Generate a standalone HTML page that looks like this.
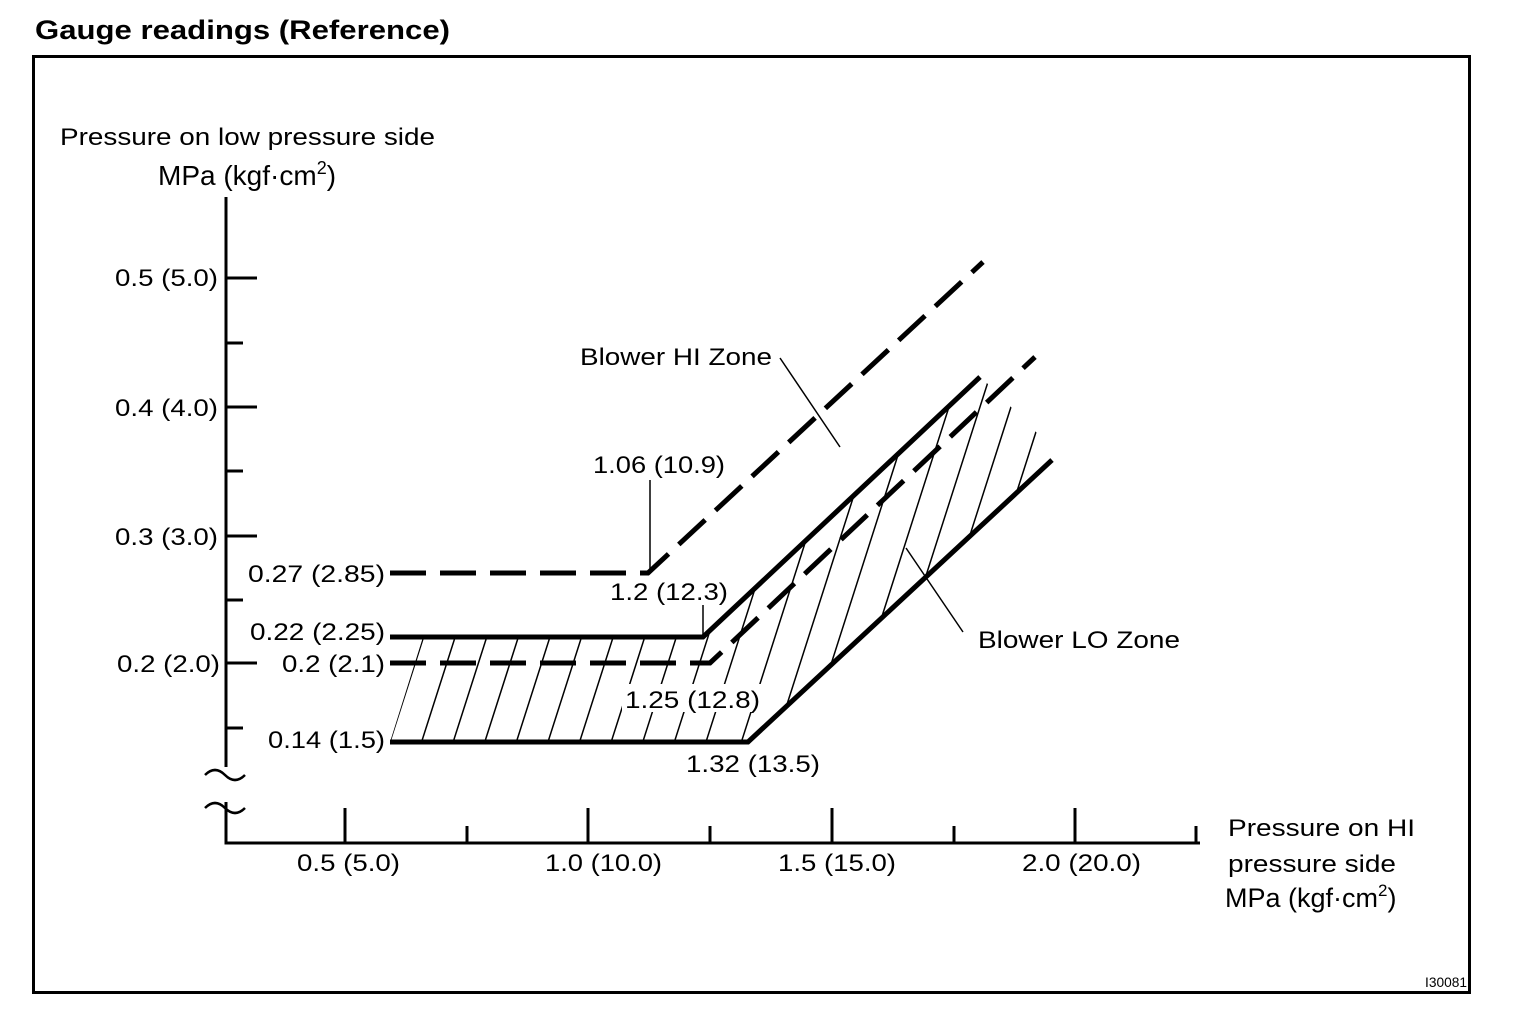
<!DOCTYPE html>
<html><head><meta charset="utf-8"><style>
html,body{margin:0;padding:0;background:#fff}
svg text{font-family:"Liberation Sans",Arial,sans-serif;fill:#000}
</style></head><body>
<svg width="1520" height="1016" viewBox="0 0 1520 1016" xmlns="http://www.w3.org/2000/svg">
<text x="35" y="39" font-size="27" font-weight="bold" textLength="415" lengthAdjust="spacingAndGlyphs">Gauge readings (Reference)</text>
<rect x="33.5" y="56.5" width="1436" height="936" fill="none" stroke="#000" stroke-width="3"/>
<clipPath id="c"><polygon points="390,742 423,637 703,637 980,378 988,384 1012,408 1037,433 1052,460 748,742"/></clipPath>
<g stroke="#000" stroke-width="1.5" clip-path="url(#c)">
<line x1="384.2" y1="760" x2="531.4" y2="300"/>
<line x1="415.8" y1="760" x2="563" y2="300"/>
<line x1="447.4" y1="760" x2="594.6" y2="300"/>
<line x1="479" y1="760" x2="626.2" y2="300"/>
<line x1="510.6" y1="760" x2="657.8" y2="300"/>
<line x1="542.2" y1="760" x2="689.4" y2="300"/>
<line x1="573.8" y1="760" x2="721" y2="300"/>
<line x1="605.4" y1="760" x2="752.6" y2="300"/>
<line x1="637" y1="760" x2="784.2" y2="300"/>
<line x1="668.6" y1="760" x2="815.8" y2="300"/>
<line x1="700.2" y1="760" x2="847.4" y2="300"/>
<line x1="735.6" y1="760" x2="882.8" y2="300"/>
<line x1="769.2" y1="760" x2="916.4" y2="300"/>
<line x1="800.4" y1="760" x2="947.6" y2="300"/>
<line x1="836" y1="760" x2="983.2" y2="300"/>
<line x1="867" y1="760" x2="1014.2" y2="300"/>
<line x1="898" y1="760" x2="1045.2" y2="300"/>
<line x1="931" y1="760" x2="1078.2" y2="300"/>
</g>
<rect x="622" y="684" width="142" height="28" fill="#fff"/>
<g font-size="24">
<text x="60" y="145" textLength="375" lengthAdjust="spacingAndGlyphs">Pressure on low pressure side</text>
<text x="158" y="185" font-size="28">MPa (kgf·cm<tspan font-size="18" dy="-11">2</tspan><tspan dy="11">)</tspan></text>
<text x="115" y="286" textLength="103" lengthAdjust="spacingAndGlyphs">0.5 (5.0)</text>
<text x="115" y="416" textLength="103" lengthAdjust="spacingAndGlyphs">0.4 (4.0)</text>
<text x="115" y="545" textLength="103" lengthAdjust="spacingAndGlyphs">0.3 (3.0)</text>
<text x="117" y="672" textLength="103" lengthAdjust="spacingAndGlyphs">0.2 (2.0)</text>
<text x="248" y="582" textLength="137" lengthAdjust="spacingAndGlyphs">0.27 (2.85)</text>
<text x="250" y="640" textLength="135" lengthAdjust="spacingAndGlyphs">0.22 (2.25)</text>
<text x="282" y="672" textLength="103" lengthAdjust="spacingAndGlyphs">0.2 (2.1)</text>
<text x="268" y="748" textLength="117" lengthAdjust="spacingAndGlyphs">0.14 (1.5)</text>
<text x="593" y="473" textLength="132" lengthAdjust="spacingAndGlyphs">1.06 (10.9)</text>
<text x="610" y="600" textLength="118" lengthAdjust="spacingAndGlyphs">1.2 (12.3)</text>
<text x="625" y="708" textLength="135" lengthAdjust="spacingAndGlyphs">1.25 (12.8)</text>
<text x="686" y="772" textLength="134" lengthAdjust="spacingAndGlyphs">1.32 (13.5)</text>
<text x="580" y="365" textLength="192" lengthAdjust="spacingAndGlyphs">Blower HI Zone</text>
<text x="978" y="648" textLength="202" lengthAdjust="spacingAndGlyphs">Blower LO Zone</text>
<text x="297" y="871" textLength="103" lengthAdjust="spacingAndGlyphs">0.5 (5.0)</text>
<text x="545" y="871" textLength="117" lengthAdjust="spacingAndGlyphs">1.0 (10.0)</text>
<text x="778" y="871" textLength="118" lengthAdjust="spacingAndGlyphs">1.5 (15.0)</text>
<text x="1022" y="871" textLength="119" lengthAdjust="spacingAndGlyphs">2.0 (20.0)</text>
<text x="1228" y="836" textLength="187" lengthAdjust="spacingAndGlyphs">Pressure on HI</text>
<text x="1228" y="872" textLength="168" lengthAdjust="spacingAndGlyphs">pressure side</text>
<text x="1225" y="907" font-size="27">MPa (kgf·cm<tspan font-size="17" dy="-11">2</tspan><tspan dy="11">)</tspan></text>
</g>
<text x="1425" y="987" font-size="14" textLength="42" lengthAdjust="spacingAndGlyphs">I30081</text>
<g stroke="#000" fill="none" stroke-width="3">
<path d="M226 197V767M226 802V843H1200"/>
<path d="M205 775q10-10 20 0t20 0M205 808q10-10 20 0t20 0" stroke-width="2.5"/>
<path d="M226 278H257M226 407H257M226 536H257M226 663H257M226 343H243M226 471H243M226 600H243M226 728H243"/>
<path d="M345 843V808M588 843V808M832 843V808M1075 843V808M467 843V826M710 843V826M954 843V826M1196 843V826"/>
</g>
<g stroke="#000" stroke-width="1.5">
<line x1="650" y1="480" x2="650" y2="570"/>
<line x1="703" y1="605" x2="703" y2="637"/>
<line x1="780" y1="358" x2="840" y2="447"/>
<line x1="906" y1="548" x2="963" y2="632"/>
</g>
<g stroke="#000" fill="none" stroke-width="5">
<polyline points="390,637 703,637 980,377"/>
<polyline points="390,742 748,742 1052,460"/>
<polyline points="390,573 648,573 983,262" stroke-dasharray="36,14"/>
<polyline points="390,663 710,663 1035,357" stroke-dasharray="36,14"/>
</g>
</svg>
</body></html>
